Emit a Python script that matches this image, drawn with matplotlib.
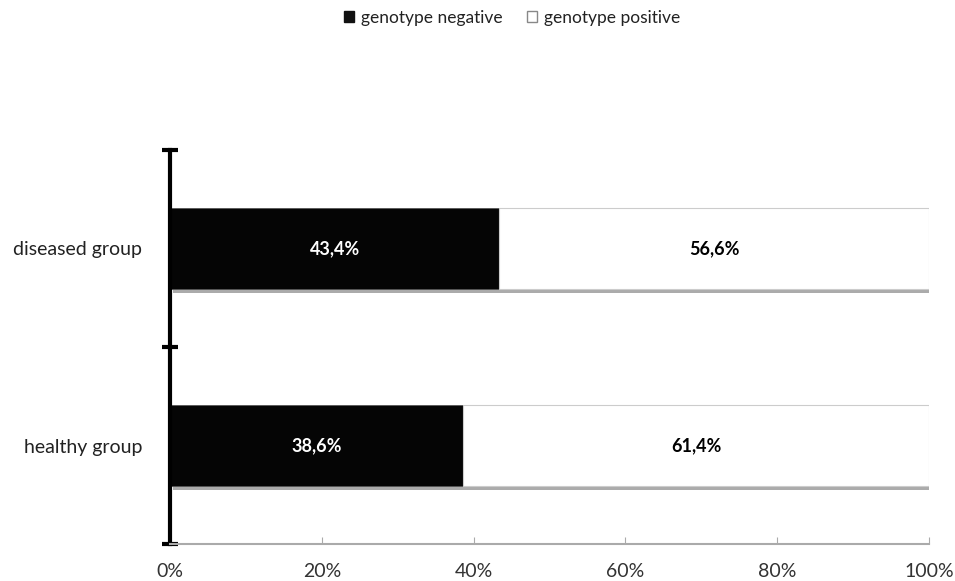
import matplotlib.pyplot as plt
import matplotlib.patheffects as pe
from matplotlib.patches import Patch

groups = ["healthy group", "diseased group"]
negative = [38.6, 43.4]
positive = [61.4, 56.6]
xticks = [0, 20, 40, 60, 80, 100]
xlabels = ["0%", "20%", "40%", "60%", "80%", "100%"]

plt.rcParams['font.family'] = ['Lato', 'DejaVu Sans']

fig = plt.figure(figsize=(9.55, 5.81), dpi=100)
ax = fig.add_axes([170/955, 37/581, 759/955, 394/581])

shadow = [pe.SimplePatchShadow(offset=(2, -3), shadow_rgbFace='#888888', alpha=0.7), pe.Normal()]
ypos = [0.5, 1.5]
h = 0.41
b1 = ax.barh(ypos, negative, height=h, color='#050505', edgecolor='#555555', linewidth=0.6)
b2 = ax.barh(ypos, positive, left=negative, height=h, color='white', edgecolor='#cccccc', linewidth=0.8)
for b in list(b1) + list(b2):
    b.set_path_effects(shadow)

for y, n, p in zip(ypos, negative, positive):
    ax.text(n / 2, y, f"{n:.1f}%".replace('.', ','), ha='center', va='center',
            color='white', fontsize=13, fontweight='bold')
    ax.text(n + p / 2, y, f"{p:.1f}%".replace('.', ','), ha='center', va='center',
            color='black', fontsize=13, fontweight='bold')

ax.set_xlim(0, 100)
ax.set_ylim(0, 2)
ax.set_xticks(xticks)
ax.set_xticklabels(xlabels, fontsize=14, color='#333333')
ax.tick_params(axis='x', direction='in', length=5, color='#aaaaaa', pad=14)

ax.set_yticks([0, 1, 2])
ax.set_yticklabels([])
ax.set_yticks(ypos, minor=True)
ax.set_yticklabels(groups, minor=True, fontsize=14, color='#222222')
ax.tick_params(axis='y', which='minor', length=0, pad=20)
ax.tick_params(axis='y', which='major', direction='inout', length=12, width=3, color='black')

for s in ['top', 'right']:
    ax.spines[s].set_visible(False)
ax.spines['left'].set_linewidth(3)
ax.spines['left'].set_color('black')
ax.spines['bottom'].set_color('#aaaaaa')
ax.spines['bottom'].set_linewidth(1.5)

handles = [Patch(facecolor='#111111', edgecolor='#111111'),
           Patch(facecolor='white', edgecolor='#888888')]
fig.legend(handles, ["genotype negative", "genotype positive"], loc='upper center',
           bbox_to_anchor=(512/955, 1.01), ncol=2, frameon=False, fontsize=12.5,
           handlelength=0.6, handleheight=0.6, handletextpad=0.4, columnspacing=1.4,
           labelcolor='#222222')

fig.savefig("out.png", dpi=100)
